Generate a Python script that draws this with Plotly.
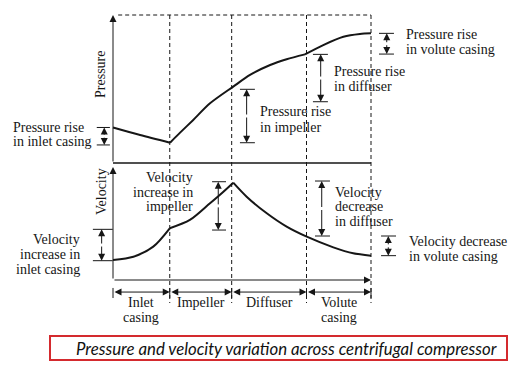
import plotly.graph_objects as go

# ---------------- data ----------------
stations = [0, 22, 46, 75, 100]                     # section boundaries (relative position)
section_line1 = ["Inlet", "Impeller", "Diffuser", "Volute"]
section_line2 = ["casing", "", "", "casing"]

pressure_x = [0, 10.5, 22.1, 26.0, 31.1, 37.6, 46.6, 53.1, 60.9, 67.3, 74.4, 81.5, 89.3, 95.7, 100]
pressure_v = [24.0, 18.9, 13.7, 20.5, 29.1, 40.3, 51.6, 59.5, 66.2, 70.1, 73.4, 79.7, 85.3, 87.2, 87.6]
pressure_kinks = [2, 10]        # indices where the curve has a corner

velocity_x = [0, 7.9, 15.6, 22.0, 29.8, 37.6, 42.8, 46.6, 51.8, 59.6, 67.3, 75.1, 85.4, 93.1, 100]
velocity_v = [17.1, 19.9, 28.5, 44.2, 51.3, 65.6, 75.5, 83.2, 71.2, 57.0, 45.6, 37.0, 27.9, 22.8, 20.8]
velocity_kinks = [3, 7]

# dimension brackets: (x, from, to, tick_left, tick_right)
pressure_brackets = [(-3.4, 24.0, 12.2, -6.3, -1.2),
                     (51.8, 49.8, 13.7, 49.2, 55.0),
                     (80.5, 73.4, 41.4, 77.5, 83.3),
                     (106.1, 87.6, 73.6, 103.1, 108.9)]
velocity_brackets = [(-4.4, 43.3, 16.5, -7.8, -0.1),
                     (40.8, 84.0, 42.7, 38.4, 43.8),
                     (80.9, 84.6, 37.6, 78.3, 84.1),
                     (106.7, 37.6, 20.8, 103.9, 109.7)]

# labels: (lines, x, [y per line], anchor)
pressure_labels = [(["Pressure rise", "in inlet casing"], -39.5, [24.0, 14.2], "left"),
                   (["Pressure rise", "in impeller"], 56.1, [34.7, 24.1], "left"),
                   (["Pressure rise", "in diffuser"], 84.8, [61.7, 52.0], "left"),
                   (["Pressure rise", "in volute casing"], 112.8, [87.0, 77.0], "left")]
velocity_labels = [(["Velocity", "increase in", "inlet casing"], -12.0, [34.2, 21.8, 9.4], "right"),
                   (["Velocity", "increase in", "impeller"], 31.8, [87.2, 74.4, 62.4], "right"),
                   (["Velocity", "decrease", "in diffuser"], 85.2, [75.0, 62.6, 50.4], "left"),
                   (["Velocity decrease", "in volute casing"], 113.8, [32.7, 19.9], "left")]

caption = "Pressure and velocity variation across centrifugal compressor"

# ---------------- figure ----------------
OFF = 8                     # page body margin of the html page
W, H = 520 - OFF, 369 - OFF
X0 = 113 - OFF              # pixel of position 0
PY0 = 163 - OFF             # pixel of pressure 0
VY0 = 280 - OFF             # pixel of velocity 0
SX, SP, SV = 2.58, 1.48, 1.17
SERIF = "Liberation Serif, Times New Roman, serif"
INK = "#161616"
FS = 14

fig = go.Figure()

def add_curve(xs, ys, kinks, yaxis):
    cuts = [0] + kinks + [len(xs) - 1]
    for a, b in zip(cuts[:-1], cuts[1:]):
        fig.add_trace(go.Scatter(x=xs[a:b + 1], y=ys[a:b + 1], mode="lines", yaxis=yaxis,
                                 line=dict(color=INK, width=2, shape="spline", smoothing=0.8),
                                 hoverinfo="skip", showlegend=False))

add_curve(pressure_x, pressure_v, pressure_kinks, "y")
add_curve(velocity_x, velocity_v, velocity_kinks, "y2")

shapes = []
ann = []

def line(x0, y0, x1, y1, yref="y", dash="solid", width=1):
    shapes.append(dict(type="line", xref="x", yref=yref, x0=x0, y0=y0, x1=x1, y1=y1,
                       line=dict(color=INK, width=width, dash=dash)))

def arrow(x0, y0, x1, y1, yref="y", both=True):
    ann.append(dict(x=x1, y=y1, ax=x0, ay=y0, xref="x", yref=yref, axref="x", ayref=yref,
                    text="", showarrow=True, arrowhead=2, arrowsize=1.4, arrowwidth=1,
                    arrowcolor=INK, arrowside="end+start" if both else "end",
                    standoff=0, startstandoff=0))

# frame: pressure axis, baseline, dashed top, dashed station lines
arrow(0, 0, 0, 100, "y", both=False)
line(0, 0, 100, 0, "y", width=1.6)
line(2, 100, 100, 100, "y", dash="4px,3px")
for s in stations[1:]:
    line(s, 100, s, -94.6, "y", dash="4px,3px")

# velocity axis and baseline
arrow(0, 0, 0, 96.6, "y2", both=False)
arrow(0, 0, 100, 0, "y2", both=False)

# bottom dimension line of sections
for a, b in zip(stations[:-1], stations[1:]):
    arrow(a, -10.3, b, -10.3, "y2")
for s in stations:
    line(s, -6.8, s, -15.4, "y2")
for i, (a, b) in enumerate(zip(stations[:-1], stations[1:])):
    m = (a + b) / 2
    ann.append(dict(x=m, y=-18.8, xref="x", yref="y2", text=section_line1[i], showarrow=False,
                    font=dict(family=SERIF, size=FS, color=INK), xanchor="center", yanchor="middle"))
    if section_line2[i]:
        ann.append(dict(x=m, y=-32.0, xref="x", yref="y2", text=section_line2[i], showarrow=False,
                        font=dict(family=SERIF, size=FS, color=INK), xanchor="center", yanchor="middle"))

# brackets (arrow heads point outward to the end ticks)
for (bx, y0, y1, tl, tr) in pressure_brackets:
    arrow(bx, (y0 + y1) / 2, bx, y0, "y", both=False)
    arrow(bx, (y0 + y1) / 2, bx, y1, "y", both=False)
    line(tl, y0, tr, y0, "y"); line(tl, y1, tr, y1, "y")
for (bx, y0, y1, tl, tr) in velocity_brackets:
    arrow(bx, (y0 + y1) / 2, bx, y0, "y2", both=False)
    arrow(bx, (y0 + y1) / 2, bx, y1, "y2", both=False)
    line(tl, y0, tr, y0, "y2"); line(tl, y1, tr, y1, "y2")

# labels
for lines_, lx, ys, anc in pressure_labels:
    for t, yy in zip(lines_, ys):
        ann.append(dict(x=lx, y=yy, xref="x", yref="y", text=t, showarrow=False, xanchor=anc,
                        yanchor="middle", font=dict(family=SERIF, size=FS, color=INK)))
for lines_, lx, ys, anc in velocity_labels:
    for t, yy in zip(lines_, ys):
        ann.append(dict(x=lx, y=yy, xref="x", yref="y2", text=t, showarrow=False, xanchor=anc,
                        yanchor="middle", font=dict(family=SERIF, size=FS, color=INK)))

# axis titles
ann.append(dict(x=-4.65, y=59.5, xref="x", yref="y", text="Pressure", textangle=-90, showarrow=False,
                font=dict(family=SERIF, size=FS, color=INK)))
ann.append(dict(x=-4.65, y=75.2, xref="x", yref="y2", text="Velocity", textangle=-90, showarrow=False,
                font=dict(family=SERIF, size=FS, color=INK)))

# caption box
shapes.append(dict(type="rect", xref="paper", yref="paper", x0=(50 - OFF) / W, x1=(507 - OFF) / W,
                   y0=1 - (360 - OFF) / H, y1=1 - (336 - OFF) / H, line=dict(color="#d42a2e", width=2)))
ann.append(dict(x=(286.5 - OFF) / W, y=1 - (348.5 - OFF) / H, xref="paper", yref="paper",
                text="<i>" + caption + "</i>",
                showarrow=False, xanchor="center", yanchor="middle",
                font=dict(family="Lato, Open Sans, sans-serif", size=16.8, color="#111111")))

fig.update_layout(
    width=W, height=H, margin=dict(l=0, r=0, t=0, b=0),
    paper_bgcolor="white", plot_bgcolor="white",
    xaxis=dict(range=[-X0 / SX, (W - X0) / SX], visible=False, fixedrange=True),
    yaxis=dict(range=[(PY0 - H) / SP, PY0 / SP], visible=False, fixedrange=True),
    yaxis2=dict(range=[(VY0 - H) / SV, VY0 / SV], visible=False, fixedrange=True,
                overlaying="y"),
    shapes=shapes, annotations=ann, showlegend=False,
)

fig.write_html("out.html", config={"displayModeBar": False})
